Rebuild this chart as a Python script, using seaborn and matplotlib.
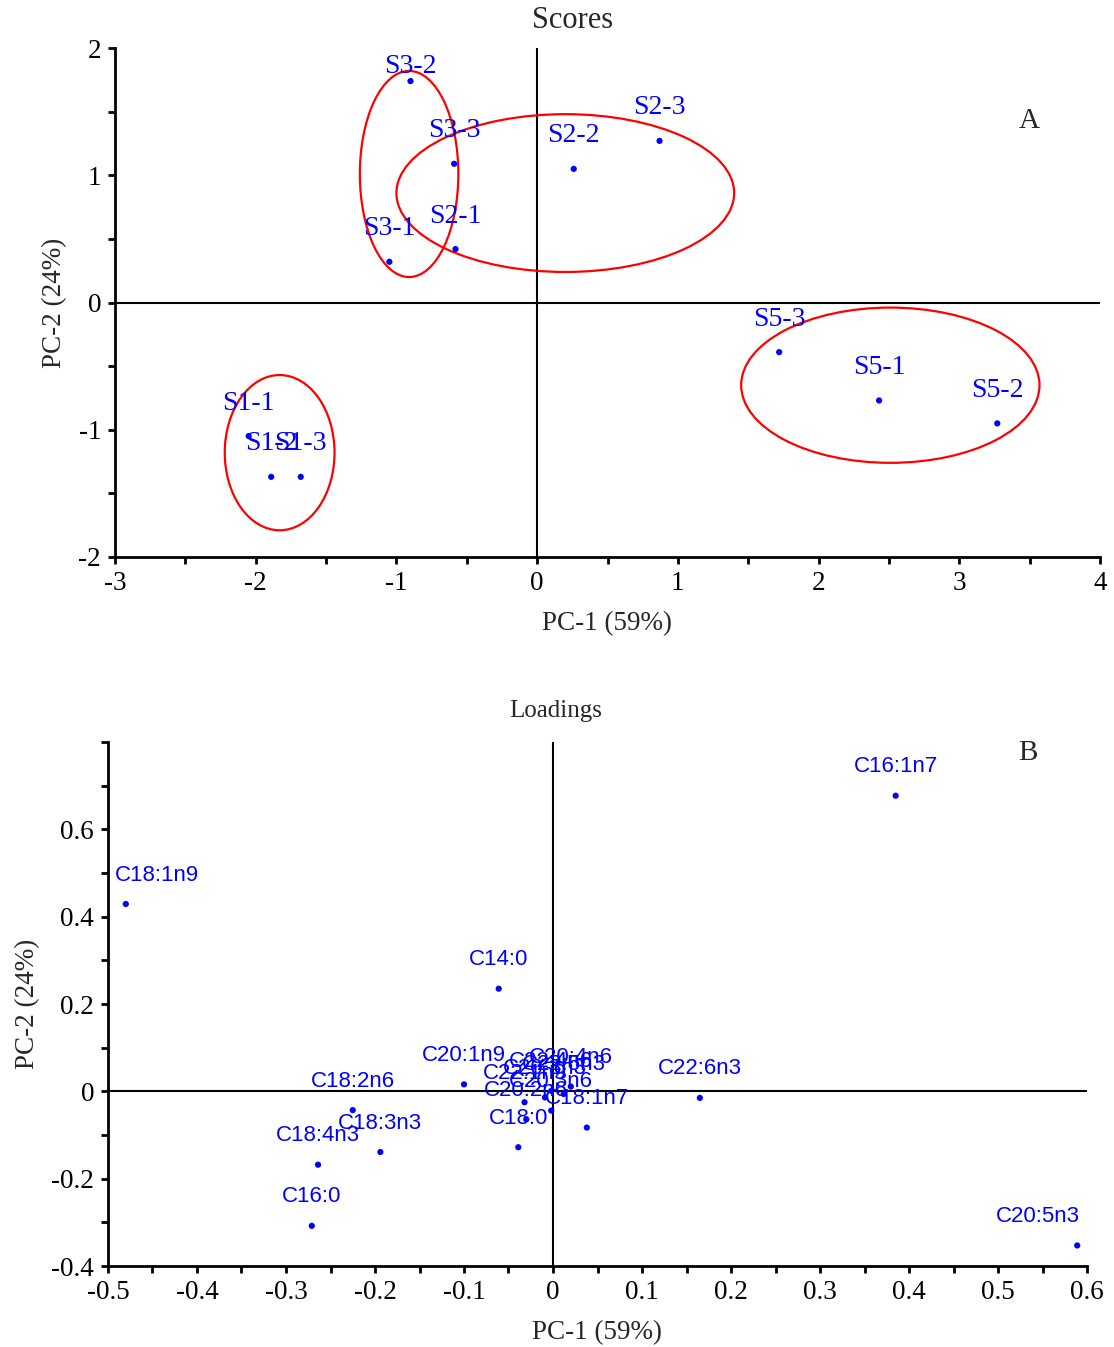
import numpy as np
import pandas as pd
import matplotlib
matplotlib.use("Agg")
import matplotlib.pyplot as plt
from matplotlib.patches import Ellipse
from matplotlib.ticker import MultipleLocator
import seaborn as sns

# ---------------- data ----------------
score_names = ["S1-1", "S1-2", "S1-3", "S2-1", "S2-2", "S2-3",
               "S3-1", "S3-2", "S3-3", "S5-1", "S5-2", "S5-3"]
score_pc1 = [-2.05, -1.89, -1.68, -0.58, 0.26, 0.87,
             -1.05, -0.90, -0.59, 2.43, 3.27, 1.72]
score_pc2 = [-1.05, -1.37, -1.37, 0.42, 1.05, 1.27,
             0.32, 1.74, 1.09, -0.77, -0.95, -0.39]

# group ellipses (centre, semi-axes)
ell_groups = ["S1", "S2", "S3", "S5"]
ell_cx = [-1.83, 0.20, -0.91, 2.51]
ell_cy = [-1.18, 0.86, 1.01, -0.65]
ell_rx = [0.39, 1.20, 0.35, 1.06]
ell_ry = [0.61, 0.62, 0.81, 0.61]

load_names = ["C16:1n7", "C18:1n9", "C14:0", "C20:1n9", "C18:2n6", "C18:3n3",
              "C18:4n3", "C16:0", "C22:6n3", "C20:5n3", "C18:0", "C18:1n7",
              "C20:2n6", "C22:1n9", "C20:3n3", "C22:4n6", "C22:5n3", "C20:4n6",
              "C20:3n6"]
load_pc1 = [0.385, -0.480, -0.061, -0.100, -0.225, -0.194,
            -0.264, -0.271, 0.165, 0.589, -0.039, 0.038,
            -0.030, -0.032, -0.009, -0.002, 0.012, 0.020,
            -0.002]
load_pc2 = [0.677, 0.429, 0.235, 0.016, -0.043, -0.139,
            -0.168, -0.308, -0.015, -0.353, -0.128, -0.083,
            -0.064, -0.025, -0.014, 0.001, -0.006, 0.011,
            -0.044]

load_xticks = [-0.5, -0.4, -0.3, -0.2, -0.1, 0, 0.1, 0.2, 0.3, 0.4, 0.5, 0.6]
load_yticks = [-0.4, -0.2, 0, 0.2, 0.4, 0.6]

scores = pd.DataFrame({"name": score_names, "PC1": score_pc1, "PC2": score_pc2})
loads = pd.DataFrame({"name": load_names, "PC1": load_pc1, "PC2": load_pc2})

# ---------------- style ----------------
sns.set_style("ticks")
plt.rcParams["font.family"] = ["Liberation Serif", "DejaVu Serif"]
plt.rcParams["axes.unicode_minus"] = False
plt.rcParams["axes.linewidth"] = 2.0
for a in ("x", "y"):
    plt.rcParams[f"{a}tick.major.width"] = 2.0
    plt.rcParams[f"{a}tick.minor.width"] = 2.0
    plt.rcParams[f"{a}tick.major.size"] = 5
    plt.rcParams[f"{a}tick.minor.size"] = 5
    plt.rcParams[f"{a}tick.color"] = "black"
plt.rcParams["axes.edgecolor"] = "black"

W, H = 1114, 1347
fig = plt.figure(figsize=(W / 100, H / 100), dpi=100)

def frac(l, t, r, b):
    return [l / W, 1 - b / H, (r - l) / W, (b - t) / H]

BLUE = "#0000FF"
TICK_FS = 19.5
LAB_FS = 19.5

# ---------------- Scores ----------------
ax1 = fig.add_axes(frac(115, 48, 1100, 557))
sns.scatterplot(data=scores, x="PC1", y="PC2", ax=ax1, color=BLUE, s=20,
                edgecolor="none", zorder=3)
ax1.set_xlim(-3, 4)
ax1.set_ylim(-2, 2)
ax1.xaxis.set_major_locator(MultipleLocator(1))
ax1.xaxis.set_minor_locator(MultipleLocator(0.5))
ax1.yaxis.set_major_locator(MultipleLocator(1))
ax1.yaxis.set_minor_locator(MultipleLocator(0.5))
ax1.axhline(0, color="black", lw=1.5, zorder=1)
ax1.axvline(0, color="black", lw=1.5, zorder=1)
sns.despine(ax=ax1)
ax1.tick_params(labelsize=TICK_FS, pad=5)
ax1.set_xlabel("PC-1 (59%)", fontsize=LAB_FS, labelpad=11)
ax1.set_ylabel("PC-2 (24%)", fontsize=LAB_FS, labelpad=8)

for cx, cy, rx, ry in zip(ell_cx, ell_cy, ell_rx, ell_ry):
    ax1.add_patch(Ellipse((cx, cy), 2 * rx, 2 * ry, fill=False,
                          edgecolor="red", lw=1.6, zorder=2))

score_off = {"S3-2": 15}
for n, x, y in zip(score_names, score_pc1, score_pc2):
    ax1.annotate(n, (x, y), xytext=(0, score_off.get(n, 33)),
                 textcoords="offset pixels", ha="center", va="center",
                 color=BLUE, fontsize=20, zorder=4)

fig.text(573 / W, 1 - 21 / H, "Scores", ha="center", va="center", fontsize=22)
fig.text(1029 / W, 1 - 121 / H, "A", ha="center", va="center", fontsize=21)

# ---------------- Loadings ----------------
ax2 = fig.add_axes(frac(108, 742, 1087, 1266))
sns.scatterplot(data=loads, x="PC1", y="PC2", ax=ax2, color=BLUE, s=20,
                edgecolor="none", zorder=3)
ax2.set_xlim(-0.5, 0.6)
ax2.set_ylim(-0.4, 0.8)
ax2.set_xticks(load_xticks)
ax2.set_xticklabels([f"{v:g}" for v in load_xticks])
ax2.xaxis.set_minor_locator(MultipleLocator(0.05))
ax2.set_yticks(load_yticks)
ax2.set_yticklabels([f"{v:g}" for v in load_yticks])
ax2.yaxis.set_minor_locator(MultipleLocator(0.1))
ax2.axhline(0, color="black", lw=1.5, zorder=1)
ax2.axvline(0, color="black", lw=1.5, zorder=1)
sns.despine(ax=ax2)
ax2.tick_params(labelsize=TICK_FS, pad=5)
ax2.set_xlabel("PC-1 (59%)", fontsize=LAB_FS, labelpad=11)
ax2.set_ylabel("PC-2 (24%)", fontsize=LAB_FS, labelpad=8)

load_xoff = {"C18:1n9": 31, "C20:5n3": -39}
for n, x, y in zip(load_names, load_pc1, load_pc2):
    ax2.annotate(n, (x, y), xytext=(load_xoff.get(n, 0), 29),
                 textcoords="offset pixels", ha="center", va="center",
                 color=BLUE, fontsize=16, zorder=4,
                 family=["Liberation Sans", "DejaVu Sans"])

fig.text(556 / W, 1 - 711 / H, "Loadings", ha="center", va="center", fontsize=18)
fig.text(1028 / W, 1 - 753 / H, "B", ha="center", va="center", fontsize=21)

fig.savefig("out.png", dpi=100)
